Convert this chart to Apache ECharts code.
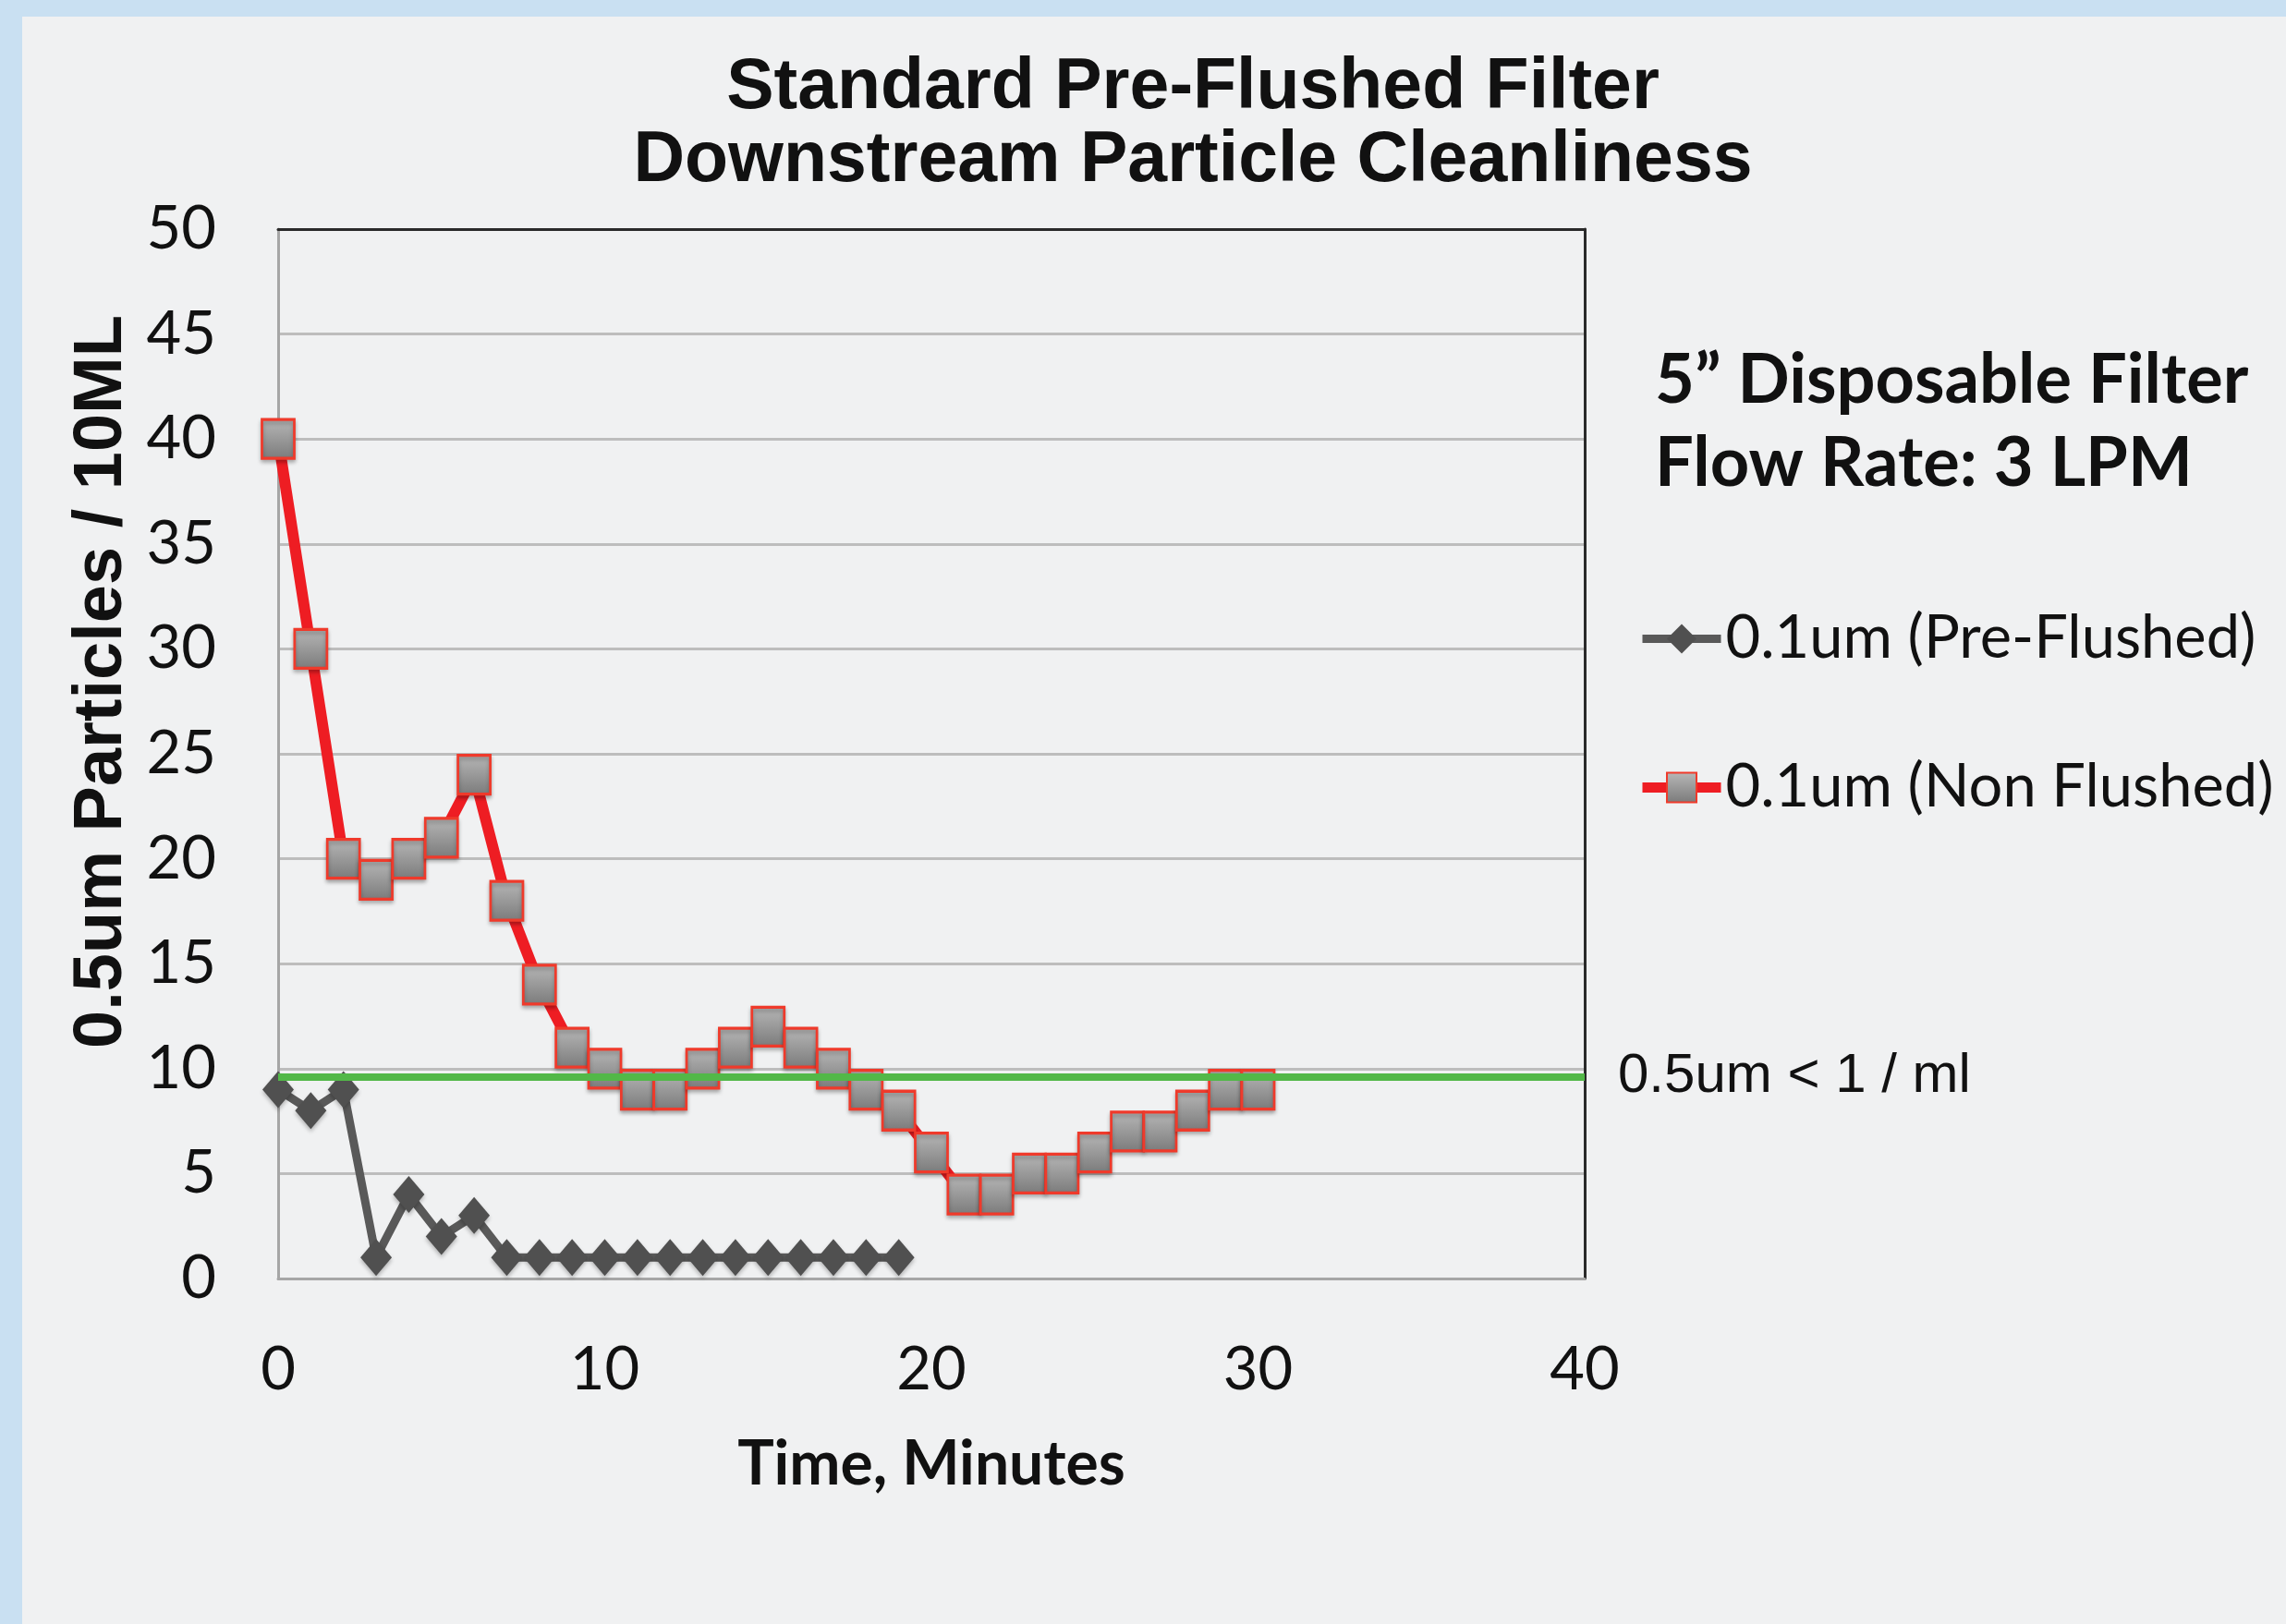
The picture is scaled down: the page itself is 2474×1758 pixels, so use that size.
<!DOCTYPE html>
<html>
<head>
<meta charset="utf-8">
<script src="https://cdn.jsdelivr.net/npm/echarts@6/dist/echarts.min.js"></script>
<style>
html,body{margin:0;padding:0;background:#c9e0f2;}
#chart{width:2474px;height:1758px;}
</style>
</head>
<body>
<div id="chart"></div>
<script>
// ---- data ----
const timeNonFlushed = [0,1,2,3,4,5,6,7,8,9,10,11,12,13,14,15,16,17,18,19,20,21,22,23,24,25,26,27,28,29,30];
const nonFlushed     = [40,30,20,19,20,21,24,18,14,11,10,9,9,10,11,12,11,10,9,8,6,4,4,5,5,6,7,7,8,9,9];
const timePreFlushed = [0,1,2,3,4,5,6,7,8,9,10,11,12,13,14,15,16,17,18,19];
const preFlushed     = [9,8,9,1,4,2,3,1,1,1,1,1,1,1,1,1,1,1,1,1];
const thresholdTime  = [0, 40];
const thresholdLevel = [9.6, 9.6];
const seriesNames    = ['0.1um (Pre-Flushed)', '0.1um (Non Flushed)'];
const xRange = [0, 40, 10];   // min, max, interval
const yRange = [0, 50, 5];

const chart = echarts.init(document.getElementById('chart'), null, {renderer: 'canvas'});

const squareFill = new echarts.graphic.LinearGradient(0, 0, 0, 1, [
  {offset: 0, color: '#b8b8b8'},
  {offset: 1, color: '#7a7a7a'}
]);

const frameAxis = {
  axisLine: {show: true, onZero: false, lineStyle: {color: '#2a2a2a', width: 3}},
  axisTick: {show: false}, axisLabel: {show: false}, splitLine: {show: false}
};

const option = {
  animation: false,
  backgroundColor: '#c9e0f2',
  graphic: [{
    type: 'rect', silent: true, z: -10,
    shape: {x: 24, y: 18, width: 2450, height: 1740},
    style: {fill: '#f0f1f2'}
  }],
  title: [{
    text: 'Standard Pre-Flushed Filter\nDownstream Particle Cleanliness',
    left: 1291, top: 56, textAlign: 'center', padding: 0,
    textStyle: {fontFamily: 'Liberation Sans', fontWeight: 'bold', fontSize: 77, lineHeight: 79, color: '#111'}
  }, {
    text: '5\u201D Disposable Filter\nFlow Rate: 3 LPM',
    left: 1791, top: 367, padding: 0,
    textStyle: {fontFamily: 'Lato', fontWeight: 'bold', fontSize: 74, lineHeight: 90, color: '#111'}
  }],
  legend: {
    data: [
      {name: seriesNames[0], lineStyle: {width: 9, color: '#595959'}},
      {name: seriesNames[1], lineStyle: {width: 11, color: '#ee1d23'}}
    ],
    orient: 'vertical', left: 1772, top: 659, padding: 0,
    itemWidth: 85, itemHeight: 40, itemGap: 96,
    textStyle: {fontFamily: 'Lato', fontSize: 65, color: '#111'}
  },
  grid: {
    left: 301, right: 759, top: 248, bottom: 374,
    show: false
  },
  xAxis: [{
    type: 'value', min: xRange[0], max: xRange[1], interval: xRange[2],
    axisLine: {show: true, onZero: false, lineStyle: {color: '#a6a6a6', width: 3}},
    axisTick: {show: false},
    splitLine: {show: false},
    axisLabel: {margin: 67, fontFamily: 'Lato', fontSize: 65, color: '#111'},
    name: 'Time, Minutes', nameLocation: 'middle', nameGap: 169,
    nameTextStyle: {fontFamily: 'Lato', fontWeight: 'bold', fontSize: 66, color: '#111'}
  }, Object.assign({
    type: 'value', position: 'top', min: xRange[0], max: xRange[1], interval: xRange[2]
  }, frameAxis)],
  yAxis: [{
    type: 'value', min: yRange[0], max: yRange[1], interval: yRange[2],
    axisLine: {show: true, onZero: false, lineStyle: {color: '#a6a6a6', width: 3}},
    axisTick: {show: false},
    splitLine: {show: true, lineStyle: {color: '#bdbdbd', width: 3}},
    axisLabel: {margin: 67, fontFamily: 'Lato', fontSize: 65, color: '#111'},
    name: '0.5um Particles / 10ML', nameLocation: 'middle', nameRotate: 90, nameGap: 152,
    nameTextStyle: {fontFamily: 'Liberation Sans', fontWeight: 'bold', fontSize: 74, color: '#111',
      padding: [0, 0, 0, 156]}
  }, Object.assign({
    type: 'value', position: 'right', min: yRange[0], max: yRange[1], interval: yRange[2]
  }, frameAxis)],
  series: [{
    name: seriesNames[0], type: 'line', z: 2,
    data: timePreFlushed.map((t, i) => [t, preFlushed[i]]),
    symbol: 'diamond', symbolSize: [34, 40],
    color: '#555555',
    lineStyle: {color: '#595959', width: 9},
    itemStyle: {color: '#505050', shadowBlur: 4, shadowOffsetY: 3, shadowColor: 'rgba(0,0,0,0.25)'}
  }, {
    name: seriesNames[1], type: 'line', z: 3,
    data: timeNonFlushed.map((t, i) => [t, nonFlushed[i]]),
    symbol: 'rect', symbolSize: [35, 42],
    color: '#ee1d23',
    lineStyle: {color: '#ee1d23', width: 12},
    itemStyle: {color: squareFill, borderColor: '#ef3a2b', borderWidth: 3,
      shadowBlur: 4, shadowOffsetY: 3, shadowColor: 'rgba(0,0,0,0.25)'}
  }, {
    name: 'threshold', type: 'line', z: 4, silent: true,
    data: thresholdTime.map((t, i) => [t, thresholdLevel[i]]),
    symbol: 'none',
    lineStyle: {color: '#52b848', width: 8},
    endLabel: {show: true, formatter: '0.5um < 1 / ml', distance: 36,
      fontFamily: 'Liberation Sans', fontSize: 60, color: '#111'}
  }]
};
chart.setOption(option);
</script>
</body>
</html>
